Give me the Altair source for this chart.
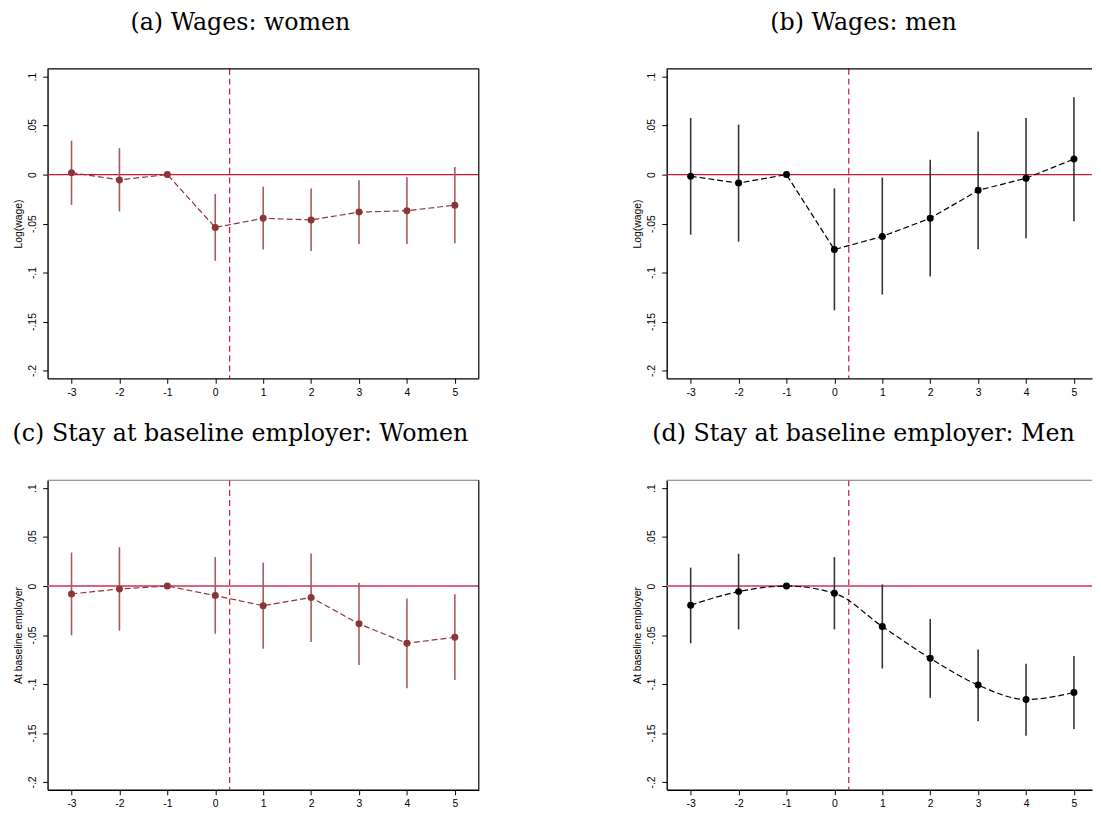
import altair as alt
import pandas as pd

periods = [-3, -2, -1, 0, 1, 2, 3, 4, 5]
event_x = [0.3]
zero_y = [0]
y_ticks = [-0.2, -0.15, -0.1, -0.05, 0, 0.05, 0.1]

# (a) Wages: women
wage_w_coef = [0.002, -0.0054, 0.0, -0.054, -0.0446, -0.0463, -0.0383, -0.0369, -0.0312]
wage_w_lo = [-0.031, -0.0376, 0.0, -0.088, -0.0765, -0.0779, -0.0708, -0.0708, -0.0701]
wage_w_hi = [0.0346, 0.027, 0.0, -0.0198, -0.0124, -0.0141, -0.0057, -0.0027, 0.0077]

# (b) Wages: men
wage_m_coef = [-0.0017, -0.0087, 0.0, -0.0765, -0.0631, -0.0446, -0.0161, -0.0037, 0.0158]
wage_m_lo = [-0.0614, -0.0685, 0.0, -0.1386, -0.1225, -0.104, -0.0762, -0.0651, -0.0477]
wage_m_hi = [0.0577, 0.051, 0.0, -0.0141, -0.003, 0.0151, 0.044, 0.0577, 0.0789]

# (c) Stay at baseline employer: Women
stay_w_coef = [-0.008, -0.003, 0.0, -0.0097, -0.0201, -0.0117, -0.0386, -0.0584, -0.0523]
stay_w_lo = [-0.0503, -0.0456, 0.0, -0.0487, -0.0641, -0.057, -0.0805, -0.1044, -0.096]
stay_w_hi = [0.0342, 0.0396, 0.0, 0.0295, 0.0238, 0.0332, 0.0034, -0.0128, -0.0084]

# (d) Stay at baseline employer: Men
stay_m_coef = [-0.0195, -0.0057, 0.0, -0.0074, -0.0413, -0.0738, -0.101, -0.1158, -0.1087]
stay_m_lo = [-0.0584, -0.0443, 0.0, -0.0443, -0.0842, -0.1141, -0.1379, -0.1527, -0.146]
stay_m_hi = [0.0188, 0.0329, 0.0, 0.0295, 0.0017, -0.0336, -0.0648, -0.0792, -0.0715]

Y_LABEL_EXPR = "(datum.value < -0.0001 ? '-' : '') + replace(format(abs(datum.value), '.2~f'), '0.', '.')"
X_LABEL_EXPR = "(datum.value < 0 ? '-' : '') + format(abs(datum.value), 'd')"


def panel(coef, lo, hi, ytitle, title, pt_color, ci_color, h_color, h_width,
          xmax, width, interp, frame, dx, top_color):
    df = pd.DataFrame({"t": periods, "coef": coef, "lo": lo, "hi": hi})
    xs = alt.Scale(domain=[-3.5, xmax], nice=False, zero=False)
    ys = alt.Scale(domain=[-0.208, 0.108], nice=False, zero=False)
    xaxis = alt.Axis(values=periods, title=None, grid=False, tickSize=5,
                     labelExpr=X_LABEL_EXPR,
                     labelPadding=4, domainColor="black", domainWidth=1.4,
                     tickColor="black", labelFont="Liberation Sans",
                     labelFontSize=10.5, labelColor="black")
    yaxis = alt.Axis(values=y_ticks, labelExpr=Y_LABEL_EXPR, title=ytitle,
                     grid=False, tickSize=5, labelPadding=7,
                     labelAngle=270, labelAlign="center",
                     labelBaseline="alphabetic",
                     domainColor="black", domainWidth=1.4, tickColor="black",
                     labelFont="Liberation Sans", labelFontSize=10.5,
                     labelColor="black", titleFont="Liberation Sans",
                     titleFontSize=10.5, titleFontWeight="normal",
                     titleColor="black", titlePadding=4)
    base = alt.Chart(df)
    hline = alt.Chart(pd.DataFrame({"y": zero_y})).mark_rule(
        color=h_color, strokeWidth=h_width).encode(
        y=alt.Y("y:Q", scale=ys, axis=yaxis))
    vline = alt.Chart(pd.DataFrame({"x": event_x})).mark_rule(
        color="#C8143C", strokeWidth=1.2, strokeDash=[6, 4]).encode(
        x=alt.X("x:Q", scale=xs, axis=xaxis))
    ci = base.mark_rule(color=ci_color, strokeWidth=1.6).encode(
        x=alt.X("t:Q", scale=xs, axis=xaxis),
        y=alt.Y("lo:Q", scale=ys, axis=yaxis), y2="hi:Q")
    line = base.mark_line(color=pt_color, strokeWidth=1.2, strokeDash=[6, 3],
                          interpolate=interp).encode(
        x=alt.X("t:Q", scale=xs, axis=xaxis),
        y=alt.Y("coef:Q", scale=ys, axis=yaxis))
    pts = base.mark_circle(color=pt_color, size=50, opacity=1).encode(
        x=alt.X("t:Q", scale=xs, axis=xaxis),
        y=alt.Y("coef:Q", scale=ys, axis=yaxis))
    top = alt.Chart(pd.DataFrame({"y": zero_y})).mark_rule(
        color=top_color, strokeWidth=1.2).encode(
        x=alt.value(0), x2=alt.value(width), y=alt.value(0))
    layers = [hline, vline, ci, line, pts, top]
    if frame:
        right = alt.Chart(pd.DataFrame({"y": zero_y})).mark_rule(
            color="black", strokeWidth=1.2).encode(
            x=alt.value(width), y=alt.value(0), y2=alt.value(313))
        layers.append(right)
    ch = alt.layer(*layers).properties(
        width=width, height=313,
        view=alt.ViewBackground(strokeWidth=0, stroke="transparent"),
        title=alt.TitleParams(title, font="DejaVu Serif", fontSize=24,
                              fontWeight="normal", color="black",
                              anchor="middle", frame="group", dx=dx,
                              offset=34),
    )
    return ch


WOMEN = "#8D3438"
WOMEN_CI = "#A65A5F"
MEN = "black"
MEN_CI = "#333333"

a = panel(wage_w_coef, wage_w_lo, wage_w_hi, "Log(wage)", "(a) Wages: women",
          WOMEN, WOMEN_CI, "#D8143A", 1.2, 5.5, 436, "linear", True, -23, "black")
b = panel(wage_m_coef, wage_m_lo, wage_m_hi, "Log(wage)", "(b) Wages: men",
          MEN, MEN_CI, "#D8143A", 1.2, 5.377, 430, "linear", False, -16, "black")
c = panel(stay_w_coef, stay_w_lo, stay_w_hi, "At baseline employer",
          "(c) Stay at baseline employer: Women",
          WOMEN, WOMEN_CI, "#DA6482", 2, 5.5, 436, "linear", True, -23, "#777777")
d = panel(stay_m_coef, stay_m_lo, stay_m_hi, "At baseline employer",
          "(d) Stay at baseline employer: Men",
          MEN, MEN_CI, "#DA6482", 2, 5.377, 430, "monotone", False, -16, "#777777")

chart = alt.concat(a, b, c, d, columns=2,
                   spacing={"row": 103, "column": 190},
                   bounds="flush").properties(
    padding={"left": 4, "top": -2, "right": 0, "bottom": 0},
    background="white",
)

chart.save("out.html", embed_options={"renderer": "svg", "actions": False})
